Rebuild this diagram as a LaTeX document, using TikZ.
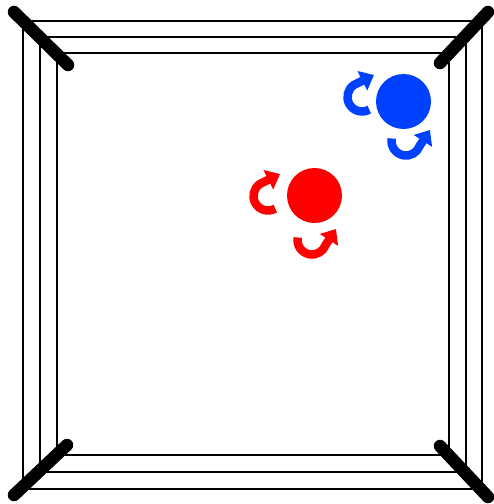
\documentclass[tikz,border=0pt]{standalone}
\usetikzlibrary{arrows.meta}
\definecolor{boxerred}{RGB}{255,0,0}
\definecolor{boxerblue}{RGB}{0,64,255}
\tikzset{
  rope/.style={draw=black, line width=2pt},
  post/.style={draw=black, line width=12.5pt, line cap=round},
  boxer/.style={circle, inner sep=0pt, minimum size=55pt},
  turn/.style={line width=8.5pt, -{Triangle[width=21pt,length=13pt]}},
}
\begin{document}
\begin{tikzpicture}[x=1pt,y=-1pt]
\useasboundingbox (0,0) rectangle (494,504);
% ropes
\draw[rope] (23,21) rectangle (482,489);
\draw[rope] (40,37) rectangle (466,472);
\draw[rope] (57,53) rectangle (449,455);
% corner posts
\draw[post] (14,12) -- (68,65);
\draw[post] (440,63) -- (488,12);
\draw[post] (67,445) -- (14,495);
\draw[post] (440,446) -- (488,497);
% red boxer
\node[boxer, fill=boxerred] (red) at (314.5,195.5) {};
\draw[turn, boxerred] ([shift={(60:14.5)}]268,196) arc[start angle=60, end angle=235, radius=14.5] -- (280,174);
\draw[turn, boxerred] ([shift={(190:14.5)}]312,240) arc[start angle=190, end angle=20, radius=14.5] -- (336,229);
% blue boxer
\node[boxer, fill=boxerblue] (blue) at (403.5,101.5) {};
\draw[turn, boxerblue] ([shift={(60:14.5)}]362,97) arc[start angle=60, end angle=235, radius=14.5] -- (374,75);
\draw[turn, boxerblue] ([shift={(190:14.5)}]406,141) arc[start angle=190, end angle=20, radius=14.5] -- (430,130);
\end{tikzpicture}
\end{document}
